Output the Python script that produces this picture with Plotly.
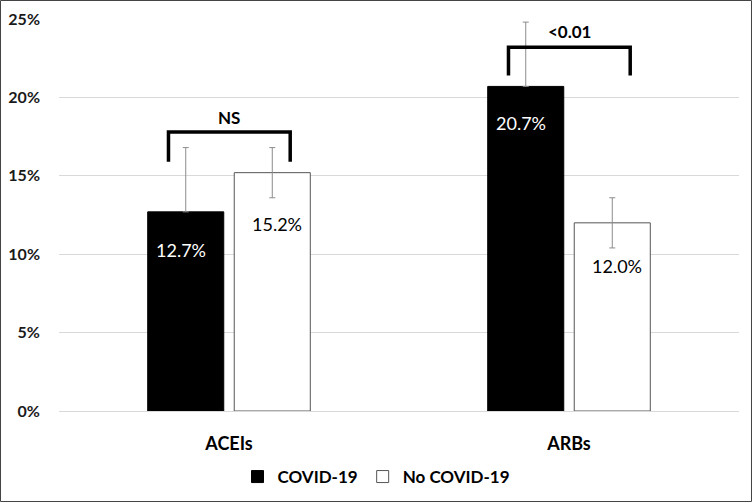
import plotly.graph_objects as go

categories = ["ACEIs", "ARBs"]
covid = [12.7, 20.7]
no_covid = [15.2, 12.0]
covid_err_plus = [4.1, 4.1]
no_covid_err = [1.6, 1.6]
series_names = ["COVID-19", "No COVID-19"]
p_labels = ["NS", "<0.01"]
bracket_top = [17.8, 23.2]
bracket_bottom = [15.9, 21.4]
p_label_y = [18.7, 24.2]
label_shift = [[-38, -51], [-37, -43]]  # [category][series] px offsets of value labels

FONT = "Lato, 'Liberation Sans', Arial, sans-serif"
W, H = 753, 503
ML, MR, MT, MB = 59, 14, 19, 92

fig = go.Figure()
fig.add_trace(go.Bar(
    name=f"<b>{series_names[0]}</b>", x=categories, y=covid,
    marker=dict(color="black", line=dict(color="black", width=1)),
    error_y=dict(type="data", array=covid_err_plus, arrayminus=[0] * len(covid),
                 color="#8c8c8c", thickness=1, width=3),
))
fig.add_trace(go.Bar(
    name=f"<b>{series_names[1]}</b>", x=categories, y=no_covid,
    marker=dict(color="white", line=dict(color="#555555", width=1)),
    error_y=dict(type="data", array=no_covid_err, symmetric=True,
                 color="#8c8c8c", thickness=1, width=3),
))

offsets = [-0.1426, 0.1426]
for ci, cat in enumerate(categories):
    for si, vals in enumerate([covid, no_covid]):
        fig.add_annotation(
            x=ci + offsets[si], y=vals[ci], xref="x", yref="y",
            text=f"{vals[ci]:.1f}%", showarrow=False, yanchor="middle",
            yshift=label_shift[ci][si],
            font=dict(family=FONT, size=18, color="white" if si == 0 else "black"),
        )
    x0, x1 = ci - 0.178, ci + 0.18
    fig.add_shape(type="path", xref="x", yref="y",
                  path=f"M {x0},{bracket_bottom[ci]} L {x0},{bracket_top[ci]} L {x1},{bracket_top[ci]} L {x1},{bracket_bottom[ci]}",
                  line=dict(color="black", width=3.5))
    fig.add_annotation(x=ci, y=p_label_y[ci], xref="x", yref="y", text=f"<b>{p_labels[ci]}</b>",
                       showarrow=False, font=dict(family=FONT, size=17, color="black"))

pw, ph = W - ML - MR, H - MT - MB
fig.add_shape(type="rect", xref="paper", yref="paper",
              x0=-(ML - 0.5) / pw, x1=1 + (MR - 1.5) / pw,
              y0=-(MB - 1.5) / ph, y1=1 + (MT - 0.5) / ph,
              line=dict(color="#444444", width=1), layer="above")

fig.update_layout(
    width=W, height=H,
    margin=dict(l=ML, r=MR, t=MT, b=MB, autoexpand=False),
    paper_bgcolor="white", plot_bgcolor="white",
    barmode="group", bargap=0.491, bargroupgap=0.121,
    font=dict(family=FONT, color="black"),
    showlegend=True,
    legend=dict(orientation="h", x=0.5, xanchor="center", xref="container",
                y=26 / H, yanchor="middle", yref="container",
                font=dict(family=FONT, size=17, color="black")),
    xaxis=dict(range=[-0.5, len(categories) - 0.5], autorange=False,
               showgrid=False, showline=False, ticks="", automargin=False,
               tickfont=dict(family=FONT, size=18, color="black"), ticklabelstandoff=20,
               tickvals=[0, 1], ticktext=[f"<b>{c}</b>" for c in categories]),
    yaxis=dict(range=[0, 25], showgrid=True, gridcolor="#d9d9d9", automargin=False,
               gridwidth=1, zeroline=True, zerolinecolor="#d9d9d9", zerolinewidth=1,
               showline=False, ticks="", ticklabelstandoff=18,
               tickfont=dict(family=FONT, size=16, color="#1a1a1a"),
               tickvals=list(range(0, 30, 5)),
               ticktext=[f"<b>{v}%</b>" for v in range(0, 30, 5)]),
)

fig.write_html("out.html", config={"displayModeBar": False},
               post_script="document.body.style.margin='0';document.body.style.padding='0';")
